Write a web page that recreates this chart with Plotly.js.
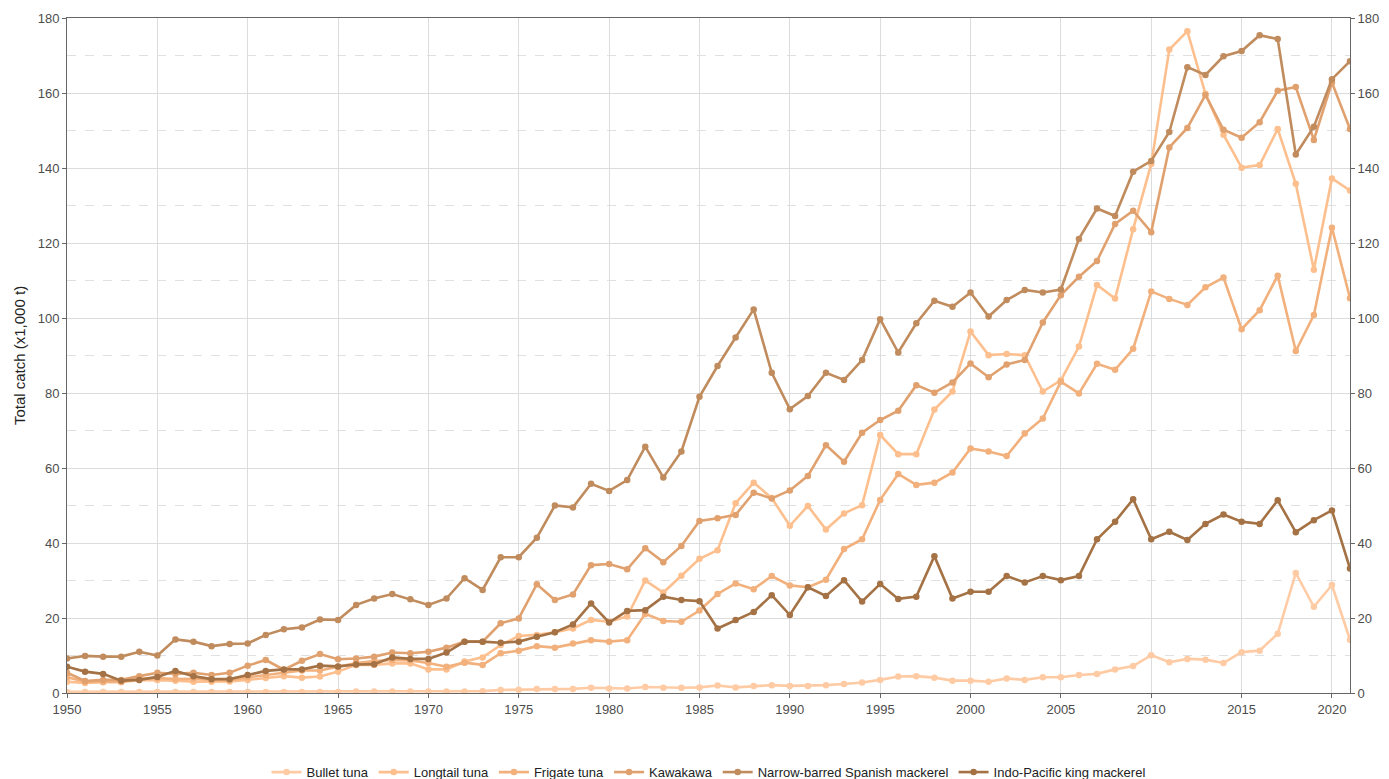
<!DOCTYPE html>
<html><head><meta charset="utf-8">
<script src="https://cdn.plot.ly/plotly-3.0.1.min.js"></script>
<style>html,body{margin:0;padding:0;background:#fff}#chart{width:1389px;height:779px}</style>
</head><body><div id="chart"></div>
<script>
const years = [];
for (let y = 1950; y <= 2021; y++) years.push(y);

const seriesNames = ["Bullet tuna","Longtail tuna","Frigate tuna","Kawakawa","Narrow-barred Spanish mackerel","Indo-Pacific king mackerel"];
const seriesColors = ["#ffcba4","#fdbf8d","#f2b07c","#e0a16f","#c08b5d","#a47244"];

const bulletTuna = [0.3,0.3,0.3,0.3,0.3,0.3,0.3,0.3,0.3,0.3,0.3,0.3,0.3,0.3,0.3,0.3,0.4,0.4,0.4,0.4,
  0.4,0.4,0.4,0.5,0.8,0.9,1.1,1.1,1.1,1.4,1.2,1.2,1.6,1.4,1.4,1.5,2.0,1.5,1.9,2.1,
  1.9,1.9,2.1,2.4,2.8,3.5,4.4,4.5,4.1,3.3,3.3,3.0,3.9,3.5,4.2,4.2,4.8,5.1,6.3,7.2,
  10.1,8.2,9.1,8.9,8.0,10.9,11.3,15.8,32.0,23.0,28.8,14.2];

const longtailTuna = [3.0,2.7,2.9,2.9,3.5,3.5,3.3,3.0,3.0,3.1,3.5,4.0,4.5,4.1,4.4,5.7,7.5,7.5,7.9,7.9,
  6.3,6.3,8.4,9.5,12.8,15.2,15.5,16.2,17.2,19.5,19.0,20.4,30.0,26.8,31.3,35.8,38.1,50.6,56.1,52.0,
  44.6,49.9,43.6,47.9,50.1,68.8,63.7,63.7,75.6,80.4,96.4,90.1,90.4,90.1,80.4,83.4,92.4,108.8,105.2,123.7,
  141.1,171.6,176.5,159.8,148.9,140.1,140.8,150.4,135.8,112.9,137.2,134.0];

const frigateTuna = [4.2,3.0,3.0,3.0,3.8,4.0,3.7,3.8,3.5,3.4,4.2,4.8,5.5,6.0,6.0,7.0,8.0,8.5,8.8,8.7,
  8.0,7.0,8.1,7.5,10.6,11.3,12.5,12.1,13.2,14.1,13.7,14.1,21.1,19.2,19.0,22.0,26.4,29.2,27.7,31.2,
  28.7,28.2,30.2,38.4,41.0,51.5,58.4,55.5,56.1,58.8,65.2,64.4,63.2,69.2,73.2,83.0,79.9,87.8,86.2,91.8,
  107.1,105.1,103.5,108.2,110.8,97.0,102.1,111.3,91.2,100.8,124.1,105.3];

const kawakawa = [5.4,3.2,3.5,3.5,4.5,5.4,5.1,5.4,4.8,5.4,7.3,8.8,6.2,8.6,10.4,9.0,9.2,9.7,10.8,10.6,
  11.0,12.1,13.7,13.7,18.6,19.9,29.0,24.8,26.3,34.1,34.4,33.0,38.6,34.9,39.2,45.9,46.6,47.5,53.4,51.9,
  54.0,57.9,66.1,61.7,69.4,72.8,75.3,82.1,80.1,82.8,87.9,84.2,87.6,88.8,98.8,106.1,111.0,115.2,125.1,128.6,
  122.9,145.5,150.7,159.5,150.2,148.1,152.2,160.6,161.6,147.5,162.8,150.4];

const narrowBarred = [9.2,9.9,9.7,9.7,11.0,10.0,14.3,13.7,12.5,13.1,13.2,15.5,17.0,17.5,19.6,19.5,23.5,25.2,26.4,25.0,
  23.5,25.2,30.6,27.5,36.2,36.2,41.4,50.0,49.5,55.8,53.9,56.8,65.7,57.5,64.4,79.0,87.2,94.8,102.3,85.4,
  75.7,79.2,85.4,83.5,88.8,99.7,90.8,98.6,104.6,103.0,106.8,100.4,104.8,107.5,106.8,107.6,121.1,129.2,127.2,139.0,
  141.9,149.6,166.9,164.8,169.8,171.2,175.4,174.4,143.6,151.0,163.7,168.5];

const indoPacific = [7.0,5.7,5.1,3.3,3.5,4.3,5.9,4.5,3.7,3.7,4.8,5.9,6.3,6.3,7.3,7.1,7.6,7.7,9.5,9.1,
  9.1,10.8,13.7,13.7,13.4,13.7,15.0,16.2,18.3,23.9,18.8,21.9,22.1,25.7,24.8,24.5,17.2,19.5,21.6,26.1,
  20.8,28.2,25.9,30.1,24.4,29.1,25.1,25.7,36.5,25.2,27.0,27.0,31.2,29.5,31.2,30.1,31.2,41.0,45.7,51.7,
  41.0,43.0,40.8,45.1,47.6,45.7,45.1,51.4,42.9,46.1,48.7,33.2];

const yTicks = [0,20,40,60,80,100,120,140,160,180];
const xTicks = [1950,1955,1960,1965,1970,1975,1980,1985,1990,1995,2000,2005,2010,2015,2020];

const allSeries = [bulletTuna,longtailTuna,frigateTuna,kawakawa,narrowBarred,indoPacific];

const traces = allSeries.map((vals, i) => ({
  type: 'scatter', mode: 'lines+markers', name: seriesNames[i],
  x: years, y: vals,
  line: {color: seriesColors[i], width: 2.6},
  marker: {color: seriesColors[i], size: 6.5}
}));
// helper trace so the right-hand axis is rendered (invisible)
traces.push({type:'scatter', mode:'lines', x: years, y: narrowBarred, yaxis:'y2',
  line:{color:'rgba(0,0,0,0)', width:0}, showlegend:false, hoverinfo:'skip'});

const axisFont = {family:'Liberation Sans, Arial, sans-serif', size:13, color:'#4d4d4d'};

const layout = {
  width: 1389, height: 779,
  margin: {l: 67, r: 39, t: 18, b: 86, autoexpand: false},
  paper_bgcolor: '#fff', plot_bgcolor: '#fff',
  font: {family: 'Liberation Sans, Arial, sans-serif', color: '#222'},
  showlegend: true,
  legend: {orientation: 'h', x: 0.5, xanchor: 'center', y: -0.095, yanchor: 'top',
    font: {size: 13, color: '#222'}, itemwidth: 30, traceorder: 'normal'},
  xaxis: {range: [1950, 2021], tickvals: xTicks, ticktext: xTicks.map(String),
    showgrid: true, gridcolor: '#dcdcdc', gridwidth: 1,
    showline: true, linecolor: '#666', linewidth: 1, mirror: true,
    ticks: 'outside', ticklen: 4, tickcolor: '#666', tickfont: axisFont, zeroline: false},
  yaxis: {range: [0, 180], tickvals: yTicks, ticktext: yTicks.map(String),
    title: {text: 'Total catch (x1,000 t)', font: {size: 15, color: '#222'}, standoff: 8},
    showgrid: true, gridcolor: '#dcdcdc', gridwidth: 1,
    minor: {dtick: 10, tick0: 0, showgrid: true, gridcolor: '#e0e0e0', griddash: 'dash', gridwidth: 1, ticks: ''},
    showline: true, linecolor: '#666', linewidth: 1,
    ticks: 'outside', ticklen: 4, tickcolor: '#666', tickfont: axisFont, zeroline: false},
  yaxis2: {range: [0, 180], overlaying: 'y', side: 'right', tickvals: yTicks, ticktext: yTicks.map(String),
    showgrid: false, showline: true, linecolor: '#666', linewidth: 1,
    ticks: 'outside', ticklen: 4, tickcolor: '#666', tickfont: axisFont, zeroline: false}
};

Plotly.newPlot('chart', traces, layout, {displayModeBar: false, staticPlot: true});
</script></body></html>
